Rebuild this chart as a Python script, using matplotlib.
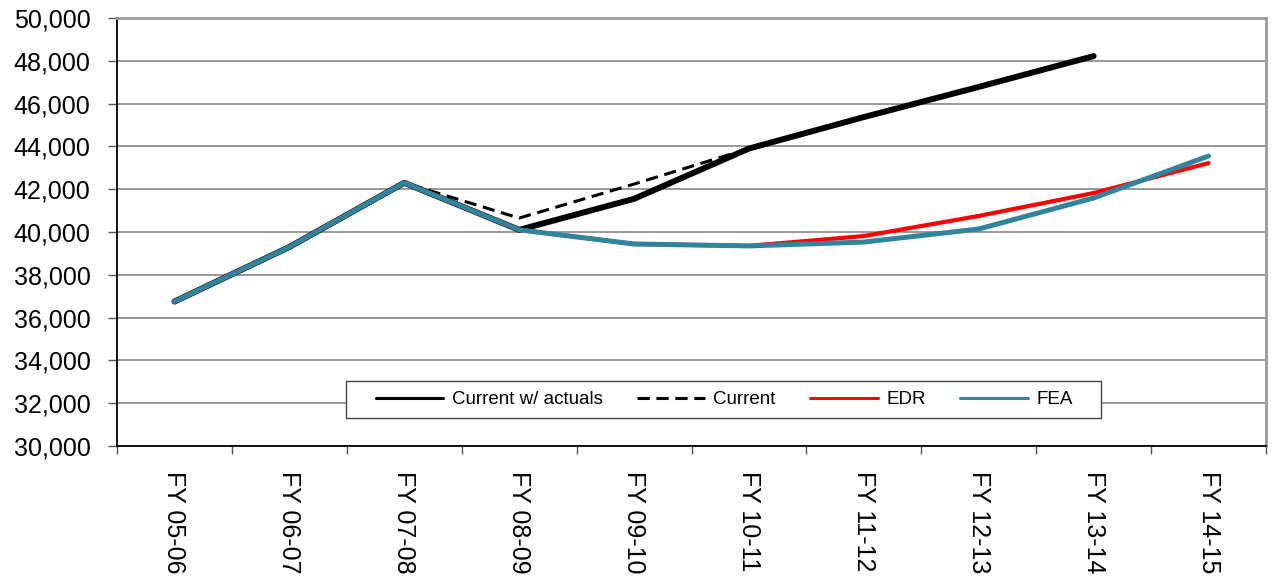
import matplotlib.pyplot as plt
import numpy as np
from matplotlib.patches import Rectangle
from matplotlib.ticker import FuncFormatter, FixedLocator

plt.rcParams['font.family'] = ['Liberation Sans', 'DejaVu Sans']

years = ['FY 05-06', 'FY 06-07', 'FY 07-08', 'FY 08-09', 'FY 09-10',
         'FY 10-11', 'FY 11-12', 'FY 12-13', 'FY 13-14', 'FY 14-15']
actuals = [36750, 39300, 42300, 40100, 41550, 43900, 45370, 46780, 48220, None]
current = [36750, 39300, 42300, 40650, 42240, 43900, 45370, 46780, 48220, None]
edr = [36750, 39300, 42300, 40100, 39440, 39350, 39810, 40750, 41820, 43220]
fea = [36750, 39300, 42300, 40100, 39440, 39350, 39530, 40140, 41590, 43550]


def arr(v):
    return np.array([np.nan if a is None else a for a in v], dtype=float)


x = np.arange(len(years))

fig = plt.figure(figsize=(12.73, 5.86), dpi=100)
ax = fig.add_axes([117 / 1273, 1 - 446 / 586, 1149 / 1273, 428 / 586])

ax.plot(x, arr(current), color='black', lw=2.2, ls=(0, (4, 2.2)), label='Current', zorder=3)
ax.plot(x, arr(actuals), color='black', lw=4.3, solid_capstyle='round', label='Current w/ actuals', zorder=4)
ax.plot(x, arr(edr), color='#ff0000', lw=3.0, solid_capstyle='round', label='EDR', zorder=5)
ax.plot(x, arr(fea), color='#31849b', lw=3.6, solid_capstyle='round', label='FEA', zorder=6)

ax.set_xlim(-0.5, len(years) - 0.5)
ax.set_ylim(30000, 50000)
ax.set_yticks(np.arange(30000, 50001, 2000))
ax.yaxis.set_major_formatter(FuncFormatter(lambda v, p: '{:,.0f}'.format(v)))
ax.grid(axis='y', color='#888888', lw=1.2)
ax.set_axisbelow(True)

# category boundaries get the tick marks, labels sit in the middle
ax.xaxis.set_major_locator(FixedLocator(np.arange(-0.5, len(years), 1.0)))
ax.xaxis.set_major_formatter(FuncFormatter(lambda v, p: ''))
ax.xaxis.set_minor_locator(FixedLocator(x))
ax.set_xticklabels(years, minor=True, rotation=270, fontsize=18)
ax.tick_params(axis='x', which='minor', length=0, pad=18)
ax.tick_params(axis='x', which='major', length=6, width=1, color='#555555')
ax.tick_params(axis='y', length=6.5, width=1, color='#555555', labelsize=18, pad=12.5)

ax.spines['left'].set_color('black')
ax.spines['bottom'].set_color('black')
ax.spines['left'].set_linewidth(1.3)
ax.spines['bottom'].set_linewidth(1.3)
ax.spines['right'].set_color('#999999')
ax.spines['top'].set_color('#999999')
ax.spines['right'].set_linewidth(2)
ax.spines['top'].set_linewidth(2)

h, l = ax.get_legend_handles_labels()
order = [1, 0, 2, 3]
leg = ax.legend([h[i] for i in order], [l[i] for i in order], ncol=4,
                loc='center', bbox_to_anchor=(0.5285, 0.108), fontsize=13.5,
                frameon=False, handlelength=3.6, handletextpad=0.45,
                columnspacing=1.85, borderpad=0.55, borderaxespad=0)
leg.set_zorder(10)
for line in leg.get_lines():
    line.set_linewidth(2.2)

# the legend box is wider than its entries, so draw the frame separately
ax.add_patch(Rectangle((0.1993, 0.0654), 0.657, 0.0864, transform=ax.transAxes,
                       facecolor='white', edgecolor='#444444', lw=1, zorder=9))

fig.savefig('out.png', dpi=100)
